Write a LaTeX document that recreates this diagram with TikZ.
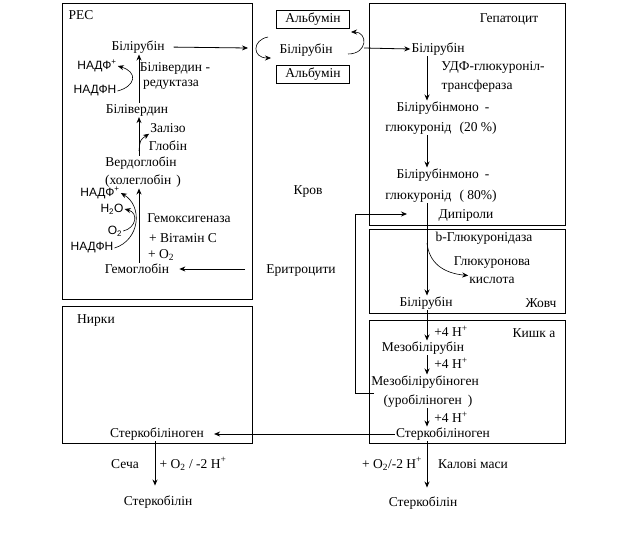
\documentclass[tikz,border=0pt]{standalone}
\usepackage{fontspec}
\setmainfont{Liberation Serif}
\setsansfont{Liberation Sans}
\usepackage{tikz}
\usetikzlibrary{arrows.meta}
\tikzset{
    % Region frames
    zone/.style={
        draw=black,
        line width=0.8pt
    },
    % Text labels
    chem/.style={
        inner sep=1pt,
        font=\fontsize{13.5}{15}\selectfont
    },
    sanschem/.style={
        inner sep=1pt,
        font=\sffamily\fontsize{12}{14}\selectfont
    },
    albbox/.style={
        rectangle,
        draw=black,
        line width=0.8pt,
        minimum width=73pt,
        minimum height=18pt,
        inner sep=1pt,
        font=\fontsize{13.5}{15}\selectfont
    },
    % Arrow styles
    myarrow/.style={
        -{Stealth[length=6pt,width=5pt]},
        line width=0.8pt
    },
    bentarrow/.style={
        -{Stealth[length=6pt,width=5pt]},
        line width=0.6pt
    }
}

\begin{document}
\begin{tikzpicture}[x=1pt,y=-1pt]
    \useasboundingbox (0,0) rectangle (639,546);

    % Region frames
    \draw[zone] (62,3) rectangle (252,299);
    \draw[zone] (62,306) rectangle (252,443);
    \draw[zone] (369,3) rectangle (565,225);
    \draw[zone] (369,229) rectangle (565,313);
    \draw[zone] (369,320) rectangle (565,443);

    % Vertical axes of the pathways
    \coordinate (resaxis) at (139,0);
    \coordinate (hepaxis) at (427,0);
    \coordinate (kidaxis) at (155,0);

    % RES
    \node[chem] (res) at (81,15) {РЕС};
    \node[chem] (resbil) at (138,47) {Білірубін};
    \node[sanschem] (nadfa) at (97,66) {НАДФ\textsuperscript{+}};
    \node[chem] (bvreda) at (175,68) {Білівердин -};
    \node[chem] (bvredb) at (171,85) {редуктаза};
    \node[sanschem] (nadfha) at (95,91) {НАДФН};
    \node[chem] (biliv) at (137,110) {Білівердин};
    \node[chem] (iron) at (168,128) {Залізо};
    \node[chem] (globin) at (168,146) {Глобін};
    \node[chem] (verdo) at (141,163) {Вердоглобін};
    \node[chem] (chole) at (143,181) {(холеглобін\hspace{5pt})};
    \node[sanschem] (nadfb) at (100,193) {НАДФ\textsuperscript{+}};
    \node[sanschem] (water) at (112,209) {H\textsubscript{2}O};
    \node[chem] (hemox) at (189,218) {Гемоксигеназа};
    \node[sanschem] (oxa) at (115,231) {O\textsubscript{2}};
    \node[chem] (vitc) at (183,238) {+ Вітамін С};
    \node[sanschem] (nadfhb) at (92,248) {НАДФН};
    \node[chem] (oxb) at (161,255) {+ O\textsubscript{2}};
    \node[chem] (hemo) at (137,269) {Гемоглобін};

    \draw[myarrow] (biliv.north -| resaxis) -- (resbil.south -| resaxis);
    \draw[myarrow] (verdo.north -| resaxis) -- (biliv.south -| resaxis);
    \draw[myarrow] (hemo.north -| resaxis) -- (chole.south -| resaxis);
    \draw[bentarrow] (nadfha.east) .. controls (136,86) and (138,72) .. (nadfa.east);
    \coordinate (ironout) at (139,151);
    \draw[bentarrow] (ironout) .. controls (140,140) .. (iron.south west);
    \draw[bentarrow] (nadfhb.east) .. controls (140,240) and (143,206) .. (nadfb.east);
    \draw[bentarrow] (oxa.east) .. controls (136,228) and (139,213) .. (water.east);

    % Blood
    \node[albbox] (albtop) at (313,19) {Альбумін};
    \node[chem] (bloodbil) at (306,50) {Білірубін};
    \node[albbox] (albbot) at (313,74) {Альбумін};
    \node[chem] (blood) at (308,192) {Кров};
    \node[chem] (eryth) at (301,271) {Еритроцити};

    \coordinate (resout) at (248,48);
    \coordinate (hepin) at (364,48);
    \coordinate (erin) at (245,269);
    \draw[myarrow, shorten <=8pt] (resbil.east) -- (resout);
    \draw[bentarrow] (268,37) .. controls (252,40) and (252,58) .. (271,58);
    \draw[bentarrow] (348,54) .. controls (368,54) and (368,32) .. (351,32);
    \draw[myarrow, shorten >=9pt] (erin) -- (hemo.east);

    % Hepatocyte
    \node[chem] (hepato) at (509,19) {Гепатоцит};
    \node[chem] (hepbil) at (438,49) {Білірубін};
    \node[chem] (udfa) at (493,67) {УДФ-глюкуроніл-};
    \node[chem] (udfb) at (477,86) {трансфераза};
    \node[chem] (monoa) at (443,108) {Білірубінмоно\hspace{6pt}-};
    \node[chem] (gluca) at (441,128) {глюкуронід\hspace{8pt}(20 \%)};
    \node[chem] (monob) at (443,175) {Білірубінмоно\hspace{6pt}-};
    \node[chem] (glucb) at (441,196) {глюкуронід\hspace{8pt}( 80\%)};
    \node[chem] (dipyr) at (466,215) {Дипіроли};

    \draw[myarrow] (hepin) -- (hepbil.west);

    % Bile
    \node[chem] (betag) at (484,238) {b-Глюкуронідаза};
    \node[chem] (glua) at (492,263) {Глюкуронова};
    \node[chem] (glub) at (492,280) {кислота};
    \node[chem] (bilebil) at (426,303) {Білірубін};
    \node[chem] (bile) at (541,303) {Жовч};

    \draw[myarrow] (hepbil.south -| hepaxis) -- (monoa.north -| hepaxis);
    \draw[myarrow] (gluca.south -| hepaxis) -- (monob.north -| hepaxis);
    \draw[myarrow] (glucb.south -| hepaxis) -- (bilebil.north -| hepaxis);
    \coordinate (glucout) at (427,243);
    \draw[bentarrow] (glucout) .. controls (429,262) and (442,273) .. (glub.north west);

    % Intestine
    \node[chem] (gut) at (534,333) {Кишк а};
    \node[chem] (ha) at (451,331) {+4 H\textsuperscript{+}};
    \node[chem] (mezo) at (423,348) {Мезобілірубін};
    \node[chem] (hb) at (451,363) {+4 H\textsuperscript{+}};
    \node[chem] (mezog) at (425,382) {Мезобілірубіноген};
    \node[chem] (urob) at (428,401) {(уробіліноген\hspace{6pt})};
    \node[chem] (hc) at (451,417) {+4 H\textsuperscript{+}};
    \node[chem] (sterk) at (443,434) {Стеркобіліноген};

    \draw[myarrow] (bilebil.south -| hepaxis) -- (mezo.north -| hepaxis);
    \draw[myarrow] (mezo.south -| hepaxis) -- (mezog.north -| hepaxis);
    \draw[myarrow] (urob.south -| hepaxis) -- (sterk.north -| hepaxis);
    \coordinate (recyc) at (374,393);
    \coordinate (dipin) at (407,214);
    \draw[myarrow] (recyc) -- (355,393) |- (dipin);

    % Kidney
    \node[chem] (kidney) at (96,321) {Нирки};
    \node[chem] (ksterk) at (157,434) {Стеркобіліноген};
    \draw[myarrow, shorten >=9pt] (sterk.west) -- (ksterk.east);

    % Excretion
    \node[chem] (urine) at (125,464) {Сеча};
    \node[chem] (oxl) at (193,464) {+ O\textsubscript{2} / -2 H\textsuperscript{+}};
    \node[chem] (stercl) at (158,502) {Стеркобілін};
    \node[chem] (oxr) at (392,464) {+ O\textsubscript{2}/-2 H\textsuperscript{+}};
    \node[chem] (feces) at (473,464) {Калові маси};
    \node[chem] (stercr) at (423,503) {Стеркобілін};

    \draw[myarrow, shorten >=9pt] (ksterk.south -| kidaxis) -- (stercl.north -| kidaxis);
    \draw[myarrow, shorten >=8pt] (sterk.south -| hepaxis) -- (stercr.north -| hepaxis);
\end{tikzpicture}
\end{document}
